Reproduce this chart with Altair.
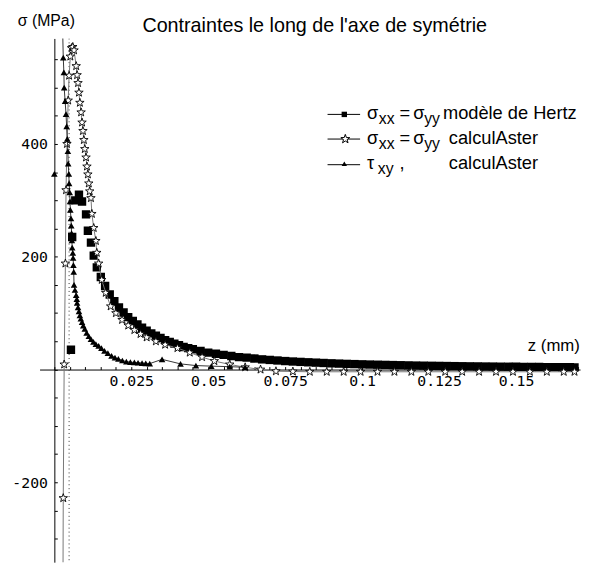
import altair as alt
import pandas as pd

# ---------------- data ----------------
# sigma_xx = sigma_yy, Hertz model (filled squares)
hertz_z = [0.0054, 0.0058, 0.0068, 0.0080, 0.0090, 0.0103, 0.0109, 0.0119, 0.0128, 0.0138, 0.0151,
           0.0165, 0.0180, 0.0195, 0.0210, 0.0225, 0.0240, 0.0255, 0.0270, 0.0285, 0.0300,
           0.0315, 0.0330, 0.0345, 0.0360, 0.0375, 0.0390, 0.0405, 0.0420, 0.0435, 0.0450,
           0.0475, 0.0500, 0.0525, 0.0550, 0.0575, 0.0600, 0.0625, 0.0650, 0.0675, 0.0700,
           0.0725, 0.0750, 0.0775, 0.0800, 0.0825, 0.0850, 0.0875, 0.0900, 0.0925, 0.0950,
           0.0975, 0.1000, 0.1025, 0.1050, 0.1075, 0.1100, 0.1125, 0.1150, 0.1175, 0.1200,
           0.1225, 0.1250, 0.1275, 0.1300, 0.1325, 0.1350, 0.1375, 0.1400, 0.1425, 0.1450,
           0.1475, 0.1500, 0.1525, 0.1550, 0.1575, 0.1600, 0.1625, 0.1650, 0.1675, 0.1690]
hertz_s = [35, 235, 300, 310, 298, 275, 246, 225, 202, 181, 164,
           148, 133, 121, 110, 101, 93, 86, 80, 74, 69,
           64, 60, 56, 52, 49, 46, 43, 40, 38, 36,
           33, 30, 28, 26, 24, 22, 21, 19.5, 18, 17,
           16, 15, 14.2, 13.5, 12.8, 12.2, 11.6, 11, 10.5, 10,
           9.6, 9.2, 8.8, 8.5, 8.2, 7.9, 7.6, 7.3, 7.0, 6.8,
           6.6, 6.4, 6.2, 6.0, 5.8, 5.6, 5.5, 5.3, 5.2, 5.0,
           4.9, 4.8, 4.6, 4.5, 4.4, 4.3, 4.2, 4.1, 4.0, 3.9]

# sigma_xx = sigma_yy, calculAster (hollow stars)
aster_z = [0.0026, 0.0029, 0.0032, 0.0036, 0.0038, 0.0041, 0.0045, 0.0048, 0.0052, 0.0056, 0.0060,
           0.0064, 0.0071, 0.0074, 0.0077, 0.0080, 0.0083, 0.0087, 0.0090, 0.0093, 0.0096,
           0.0099, 0.0103, 0.0106, 0.0109, 0.0112, 0.0115, 0.0119, 0.0122, 0.0128, 0.0135,
           0.0138, 0.0144, 0.0154, 0.0167, 0.0183, 0.0200, 0.0220, 0.0240, 0.0260, 0.0280,
           0.0300, 0.0330, 0.0360, 0.0400, 0.0440, 0.0480, 0.0520, 0.0570, 0.0620, 0.0670,
           0.0720, 0.0775, 0.0830, 0.0885, 0.0940, 0.0995, 0.1050, 0.1105, 0.1160, 0.1215,
           0.1270, 0.1325, 0.1380, 0.1435, 0.1490, 0.1545, 0.1600, 0.1655, 0.1690]
aster_s = [-700, -228, 9, 188, 318, 400, 477, 521, 555, 570, 572,
           566, 538, 522, 508, 491, 473, 456, 438, 423, 407,
           391, 376, 360, 346, 330, 316, 304, 276, 251, 228,
           207, 188, 159, 136, 112, 100, 88, 78, 70, 63,
           57, 50, 44, 38, 30, 22, 15, 9, 4, 0,
           -3, -3.5, -4, -4, -4, -4, -4, -4, -4, -4,
           -4, -4, -4, -4, -4, -4, -4, -4, -4]

# tau_xy, calculAster (filled triangles)
tau_z = [0.0023, 0.0029, 0.0031, 0.0032, 0.0035, 0.0038, 0.0040, 0.0042, 0.0044, 0.0045,
         0.0047, 0.0048, 0.0050, 0.0051, 0.0052, 0.0054, 0.0055, 0.0056, 0.0057, 0.0058,
         0.0060, 0.0061, 0.0062, 0.0063, 0.0064, 0.0067, 0.0071, 0.0073, 0.0074, 0.0077,
         0.0080, 0.0083, 0.0086, 0.0090, 0.0094, 0.0099, 0.0105, 0.0112, 0.0119, 0.0127,
         0.0135, 0.0144, 0.0153, 0.0163, 0.0174, 0.0186, 0.0197, 0.0208, 0.0221, 0.0234,
         0.0247, 0.0260, 0.0272, 0.0285, 0.0297, 0.0310, 0.0350, 0.0410, 0.0460, 0.0510,
         0.0570, 0.0620]
tau_s = [700, 553, 527, 500, 476, 453, 431, 409, 387, 365,
         347, 330, 314, 298, 283, 268, 255, 242, 229, 216,
         207, 198, 185, 173, 150, 141, 132, 125, 118, 110,
         103, 96, 90, 84, 78, 72, 65, 59, 54, 49,
         45, 42, 38, 33, 29, 24, 21, 19, 16, 14,
         13, 12.5, 12, 11.5, 11, 10.5, 18, 10, 7, 6,
         5, 4]
tau_iso_z = [0.0]
tau_iso_s = [347]

guide_z = [0.0048]

x_ticks = [0.0, 0.005, 0.01, 0.015, 0.02, 0.025, 0.03, 0.035, 0.04, 0.045, 0.05, 0.055,
           0.06, 0.065, 0.07, 0.075, 0.08, 0.085, 0.09, 0.095, 0.1, 0.105, 0.11, 0.115,
           0.12, 0.125, 0.13, 0.135, 0.14, 0.145, 0.15, 0.155, 0.16, 0.165, 0.17]
y_ticks = [-300, -250, -200, -150, -100, -50, 0, 50, 100, 150, 200, 250, 300, 350,
           400, 450, 500, 550]

X_DOMAIN = [-0.0048, 0.1708]
Y_DOMAIN = [-341.6, 587]

# ---------------- frames ----------------
hertz = pd.DataFrame({"z": hertz_z, "s": hertz_s})
aster = pd.DataFrame({"z": aster_z, "s": aster_s})
tau = pd.DataFrame({"z": tau_z, "s": tau_s})
tau_iso = pd.DataFrame({"z": tau_iso_z, "s": tau_iso_s})
guide = pd.DataFrame({"z": guide_z})

W, H = 548, 531
TXT = "Liberation Sans"
MONO = "DejaVu Sans Mono"

XS = alt.Scale(domain=X_DOMAIN, nice=False, zero=False)
YS = alt.Scale(domain=Y_DOMAIN, nice=False, zero=False)

XA = alt.Axis(orient="top", offset=-335.7, values=x_ticks, title=None, grid=False,
              labelExpr="(round(datum.value*1000) % 25 == 0 && datum.value > 0.001) ? toString(round(datum.value*1000)/1000) : ''",
              tickSize=3, tickColor="black", tickWidth=1, domainColor="black", domainWidth=1,
              labelFont=MONO, labelFontSize=15, labelColor="black", labelBaseline="top",
              labelAlign="center", labelPadding=-7, labelOverlap=False, labelFlush=False,
              labelBound=False)
YA = alt.Axis(orient="right", offset=-533, values=y_ticks, title=None, grid=False,
              labelExpr="(datum.value % 200 == 0 && datum.value != 0) ? toString(datum.value) : ''",
              tickSize=3, tickColor="black", tickWidth=1, domainColor="black", domainWidth=1,
              labelFont=MONO, labelFontSize=15, labelColor="black", labelAlign="right",
              labelBaseline="middle", labelPadding=-10, labelOverlap=False, labelFlush=False,
              labelBound=False)


def xy():
    return dict(x=alt.X("z:Q", scale=XS, axis=XA), y=alt.Y("s:Q", scale=YS, axis=YA))


STAR = ("M0,-1L0.235,-0.324L0.951,-0.309L0.38,0.124L0.588,0.809L0,0.4L-0.588,0.809"
        "L-0.38,0.124L-0.951,-0.309L-0.235,-0.324Z")

guide_rule = alt.Chart(guide).mark_rule(color="#333", strokeWidth=1, strokeDash=[1, 3], clip=True).encode(
    x=alt.X("z:Q", scale=XS, axis=XA))

hertz_pts = alt.Chart(hertz).mark_point(shape="square", filled=True, color="black", size=72,
                                         opacity=1, clip=True).encode(**xy())

aster_line = alt.Chart(aster).mark_line(color="#777", strokeWidth=1, clip=True).encode(**xy())
aster_pts = alt.Chart(aster).mark_point(shape=STAR, filled=False, fill="white", fillOpacity=1,
                                         stroke="black", strokeWidth=0.9, size=81, opacity=1,
                                         clip=True).encode(**xy())

tau_line = alt.Chart(tau).mark_line(color="black", strokeWidth=0.8, clip=True).encode(**xy())
tau_pts = alt.Chart(tau).mark_point(shape="triangle-up", filled=True, color="black", size=45,
                                     opacity=1, clip=True).encode(**xy())
tau_iso_pts = alt.Chart(tau_iso).mark_point(shape="triangle-up", filled=True, color="black",
                                             size=45, opacity=1).encode(**xy())

one = pd.DataFrame({"k": [0]})


def txt(s, x, y, size=18.5, font=TXT, align="left"):
    return alt.Chart(one).mark_text(text=s, font=font, fontSize=size, align=align,
                                    baseline="alphabetic", color="black").encode(
        x=alt.value(x), y=alt.value(y))


def lrule(y):
    return alt.Chart(one).mark_rule(color="black", strokeWidth=1).encode(
        x=alt.value(292), x2=alt.value(325), y=alt.value(y))


texts = [
    txt("Contraintes le long de l'axe de symétrie", 279, -7, size=20, align="center"),
    txt("σ (MPa)", -22, -13, size=16),
    txt("z (mm)", 495, 317, size=17),
    # legend row 1
    txt("σ", 332, 82), txt("xx", 344, 87, size=16), txt("=", 365, 82), txt("σ", 379, 82),
    txt("yy", 390, 87, size=16), txt("modèle de Hertz", 409, 82),
    # legend row 2
    txt("σ", 332, 107), txt("xx", 344, 112, size=16), txt("=", 365, 107), txt("σ", 379, 107),
    txt("yy", 390, 112, size=16), txt("calculAster", 415, 107),
    # legend row 3
    txt("τ", 332, 132), txt("xy", 343, 137, size=16), txt(",", 365, 132),
    txt("calculAster", 415, 132),
]

legend_marks = [
    lrule(77), lrule(102), lrule(128),
    alt.Chart(one).mark_point(shape="square", filled=True, color="black", size=30, opacity=1).encode(
        x=alt.value(309), y=alt.value(77)),
    alt.Chart(one).mark_point(shape=STAR, fill="white", fillOpacity=1, stroke="black", strokeWidth=1,
                              size=90, opacity=1).encode(x=alt.value(310), y=alt.value(102)),
    alt.Chart(one).mark_point(shape="triangle-up", filled=True, color="black", size=30, opacity=1).encode(
        x=alt.value(309), y=alt.value(127)),
]

chart = alt.layer(
    guide_rule, hertz_pts, aster_line, aster_pts, tau_line, tau_pts, tau_iso_pts,
    *legend_marks, *texts
).properties(
    width=W, height=H,
    autosize=alt.AutoSizeParams(type="none"),
    padding={"left": 32, "top": 27, "right": 3, "bottom": 0},
    background="white",
).configure_view(stroke=None)

chart.save("out.html", embed_options={"renderer": "svg", "actions": False})
